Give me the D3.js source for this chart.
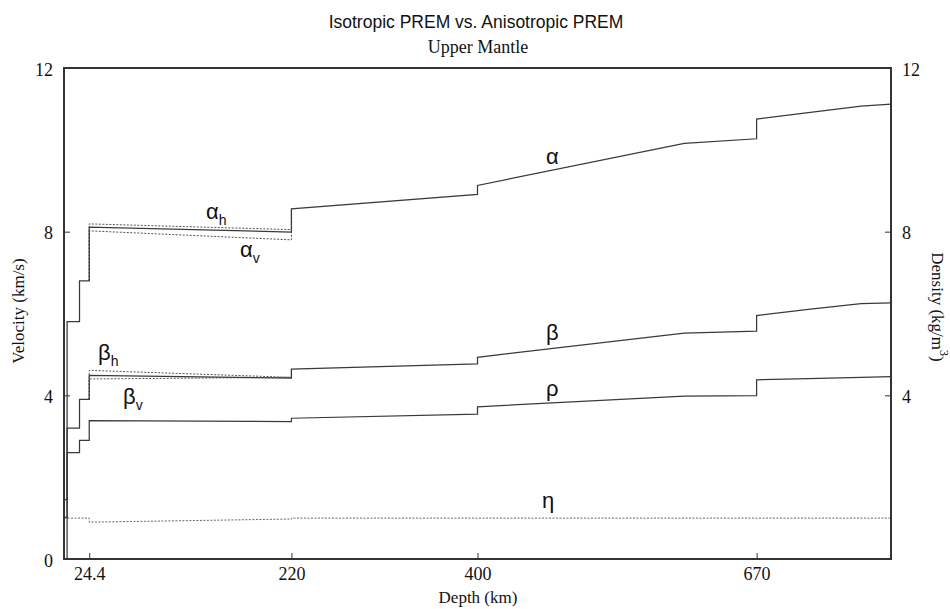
<!DOCTYPE html>
<html>
<head>
<meta charset="utf-8">
<script src="https://cdn.jsdelivr.net/npm/d3@7"></script>
<style>
  html, body { margin: 0; padding: 0; background: #fff; }
  svg { display: block; }
</style>
</head>
<body>
<svg id="chart" width="950" height="609"></svg>
<script>
// ---- Data (depth km, value) ----
const alphaIso = [[0,1.45],[3,1.45],[3,5.8],[15,5.8],[15,6.8],[24.4,6.8],[24.4,8.11],[220,7.99],[220,8.56],[400,8.91],[400,9.13],[600,10.16],[670,10.27],[670,10.75],[720,10.91],[771,11.07],[800,11.12]];
const betaIso  = [[0,0],[3,0],[3,3.2],[15,3.2],[15,3.9],[24.4,3.9],[24.4,4.49],[220,4.42],[220,4.64],[400,4.77],[400,4.93],[600,5.52],[670,5.57],[670,5.95],[720,6.10],[771,6.24],[800,6.26]];
const rhoIso   = [[0,1.02],[3,1.02],[3,2.6],[15,2.6],[15,2.9],[24.4,2.9],[24.4,3.38],[220,3.36],[220,3.44],[400,3.54],[400,3.72],[600,3.98],[670,3.99],[670,4.38],[720,4.41],[771,4.44],[800,4.46]];
const alphaH   = [[24.4,6.8],[24.4,8.19],[220,8.05],[220,8.56]];
const alphaV   = [[24.4,6.8],[24.4,8.02],[220,7.80],[220,8.56]];
const betaH    = [[24.4,3.9],[24.4,4.61],[220,4.44],[220,4.64]];
const betaV    = [[24.4,3.9],[24.4,4.40],[220,4.44],[220,4.64]];
const etaLine  = [[0,1],[24.4,1],[24.4,0.90],[220,0.977],[220,1],[800,1]];

const depthTicks = [24.4, 220, 400, 670];
const depthTickLabels = ["24.4", "220", "400", "670"];
const leftTicks = [0, 4, 8, 12];
const rightTicks = [4, 8, 12];

// ---- Layout ----
const svg = d3.select("#chart");
const X0 = 64, X1 = 891, Y0 = 559, Y1 = 68;
const x = d3.scaleLinear().domain([0, 800]).range([X0, X1]);
const y = d3.scaleLinear().domain([0, 12]).range([Y0, Y1]);

const line = d3.line().x(d => x(d[0])).y(d => y(d[1]));
const serif = "'Liberation Serif', 'Times New Roman', serif";
const sans = "'Liberation Sans', Arial, sans-serif";

// Anisotropic (dotted) first
const dotted = [alphaH, alphaV, betaH, betaV];
svg.append("g").selectAll("path").data(dotted).join("path")
  .attr("d", line).attr("fill", "none")
  .attr("stroke", "#555").attr("stroke-width", 1)
  .attr("stroke-dasharray", "2,1.5");

svg.append("path").attr("d", line(etaLine)).attr("fill", "none")
  .attr("stroke", "#666").attr("stroke-width", 1).attr("stroke-dasharray", "2,1.5");

// Isotropic (solid)
svg.append("g").selectAll("path").data([alphaIso, betaIso, rhoIso]).join("path")
  .attr("d", line).attr("fill", "none")
  .attr("stroke", "#3a3a3a").attr("stroke-width", 1.25);

// ---- Axes ----
const axB = svg.append("g").attr("transform", `translate(0,${Y0})`)
  .call(d3.axisBottom(x).tickValues(depthTicks).tickSize(-6).tickSizeOuter(0).tickPadding(10)
    .tickFormat((d, i) => depthTickLabels[i]));
const axL = svg.append("g").attr("transform", `translate(${X0},0)`)
  .call(d3.axisLeft(y).tickValues(leftTicks).tickSize(-6).tickSizeOuter(0).tickPadding(11).tickFormat(d3.format("d")));
const axR = svg.append("g").attr("transform", `translate(${X1},0)`)
  .call(d3.axisRight(y).tickValues(rightTicks).tickSize(-6).tickSizeOuter(0).tickPadding(11).tickFormat(d3.format("d")));
[axB, axL, axR].forEach(g => {
  g.selectAll(".domain").remove();
  g.selectAll(".tick line").attr("stroke", "#333").attr("stroke-width", 1);
  g.selectAll(".tick text").attr("font-family", serif).attr("font-size", 18).attr("fill", "#111");
});
axL.selectAll(".tick text").attr("dy", "0.4em");
axR.selectAll(".tick text").attr("dy", "0.4em");
axB.selectAll(".tick text").attr("dy", "0.62em");

// Frame
svg.append("rect").attr("x", X0).attr("y", Y1).attr("width", X1 - X0).attr("height", Y0 - Y1)
  .attr("fill", "none").attr("stroke", "#333").attr("stroke-width", 2);

// ---- Titles ----
svg.append("text").attr("x", 476).attr("y", 28).attr("text-anchor", "middle")
  .attr("font-family", sans).attr("font-size", 17.5).attr("fill", "#111")
  .text("Isotropic PREM vs. Anisotropic PREM");
svg.append("text").attr("x", 478).attr("y", 53).attr("text-anchor", "middle")
  .attr("font-family", serif).attr("font-size", 18).attr("fill", "#111")
  .text("Upper Mantle");
svg.append("text").attr("x", 478).attr("y", 603).attr("text-anchor", "middle")
  .attr("font-family", serif).attr("font-size", 17).attr("fill", "#111")
  .text("Depth (km)");
svg.append("text").attr("transform", "translate(24,311) rotate(-90)").attr("text-anchor", "middle")
  .attr("font-family", serif).attr("font-size", 17).attr("fill", "#111")
  .text("Velocity (km/s)");
const dens = svg.append("text").attr("transform", "translate(932,307) rotate(90)").attr("text-anchor", "middle")
  .attr("font-family", serif).attr("font-size", 17).attr("fill", "#111");
dens.append("tspan").text("Density (kg/m");
dens.append("tspan").attr("dy", -8).attr("font-size", 12).text("3");
dens.append("tspan").attr("dy", 8).text(")");

// ---- Curve labels ----
const labels = [
  {t: "α", s: "",  x: 546, y: 164},
  {t: "β", s: "",  x: 546, y: 340},
  {t: "ρ", s: "",  x: 546, y: 396},
  {t: "η", s: "",  x: 542, y: 508},
  {t: "α", s: "h", x: 206, y: 219},
  {t: "α", s: "v", x: 240, y: 257},
  {t: "β", s: "h", x: 98,  y: 360},
  {t: "β", s: "v", x: 123, y: 404}
];
const lg = svg.append("g").attr("font-family", sans).attr("fill", "#111");
labels.forEach(l => {
  const t = lg.append("text").attr("x", l.x).attr("y", l.y).attr("font-size", 22);
  t.append("tspan").text(l.t);
  if (l.s) t.append("tspan").attr("dy", 6).attr("font-size", 14).text(l.s);
});
</script>
</body>
</html>
